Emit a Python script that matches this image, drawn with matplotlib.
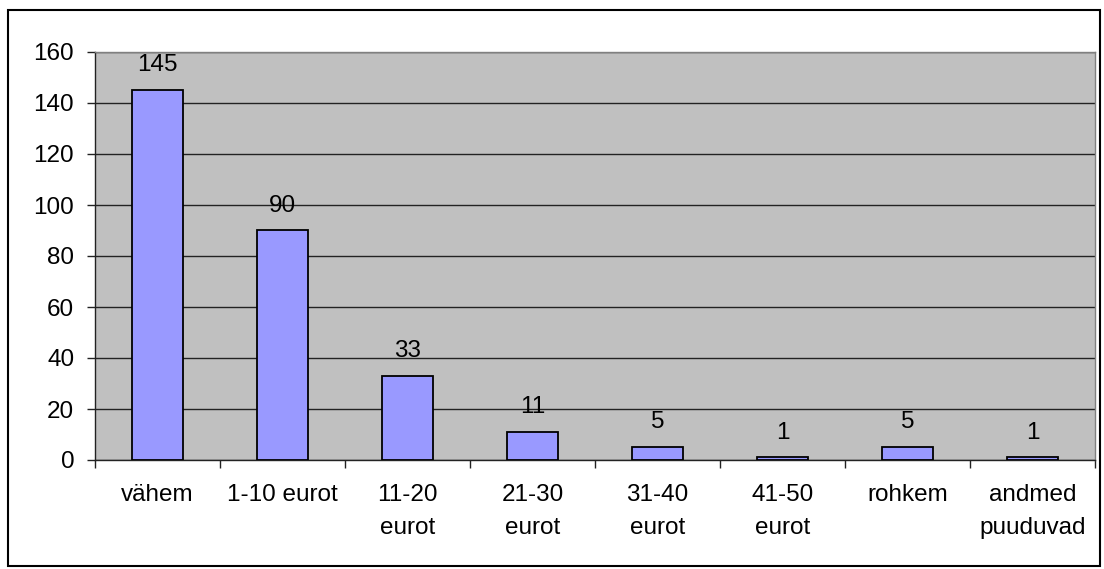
import matplotlib
matplotlib.use("Agg")
import matplotlib.pyplot as plt
from matplotlib.patches import Rectangle
import numpy as np

# data
categories = ["vähem", "1-10 eurot", "11-20\neurot", "21-30\neurot", "31-40\neurot",
              "41-50\neurot", "rohkem", "andmed\npuuduvad"]
values = [145, 90, 33, 11, 5, 1, 5, 1]
yticks = [0, 20, 40, 60, 80, 100, 120, 140, 160]

plt.rcParams['font.family'] = ['Liberation Sans', 'DejaVu Sans']
fs = 17.5

fig = plt.figure(figsize=(11.04, 5.69), dpi=100)
# outer chart frame
fig.patches.append(Rectangle((8 / 1104, 3 / 569), 1092 / 1104, 556 / 569,
                             transform=fig.transFigure, fill=False,
                             edgecolor='black', linewidth=1.5))

ax = fig.add_axes([95 / 1104, 109 / 569, 1000 / 1104, 408 / 569])
ax.set_facecolor('#C0C0C0')

x = np.arange(len(categories))
ax.bar(x, values, width=0.41, color='#9999FF', edgecolor='black', linewidth=1.3, zorder=3)

for xi, v in zip(x, values):
    ax.annotate(str(v), (xi, v), xytext=(0, 10), textcoords='offset points',
                ha='center', va='bottom', fontsize=fs)

ax.set_xlim(-0.5, len(categories) - 0.5)
ax.set_ylim(0, 160)
ax.set_yticks(yticks)
ax.yaxis.grid(True, color='#222222', linewidth=1, zorder=1)
ax.set_axisbelow(True)

# category ticks between groups, labels at centers
ax.set_xticks(np.arange(len(categories) + 1) - 0.5)
ax.set_xticklabels([])
ax.set_xticks(x, minor=True)
ax.set_xticklabels(categories, minor=True, fontsize=fs, linespacing=1.65, va='top')
ax.tick_params(axis='x', which='minor', length=0, pad=17)
ax.tick_params(axis='x', which='major', length=6, width=1, color='#222222')
ax.tick_params(axis='y', length=6, width=1, color='#222222', labelsize=fs, pad=9)

for s in ['top', 'right']:
    ax.spines[s].set_color('#808080')
    ax.spines[s].set_linewidth(1)
for s in ['left', 'bottom']:
    ax.spines[s].set_color('#222222')
    ax.spines[s].set_linewidth(1)

fig.savefig("out.png", dpi=100)
